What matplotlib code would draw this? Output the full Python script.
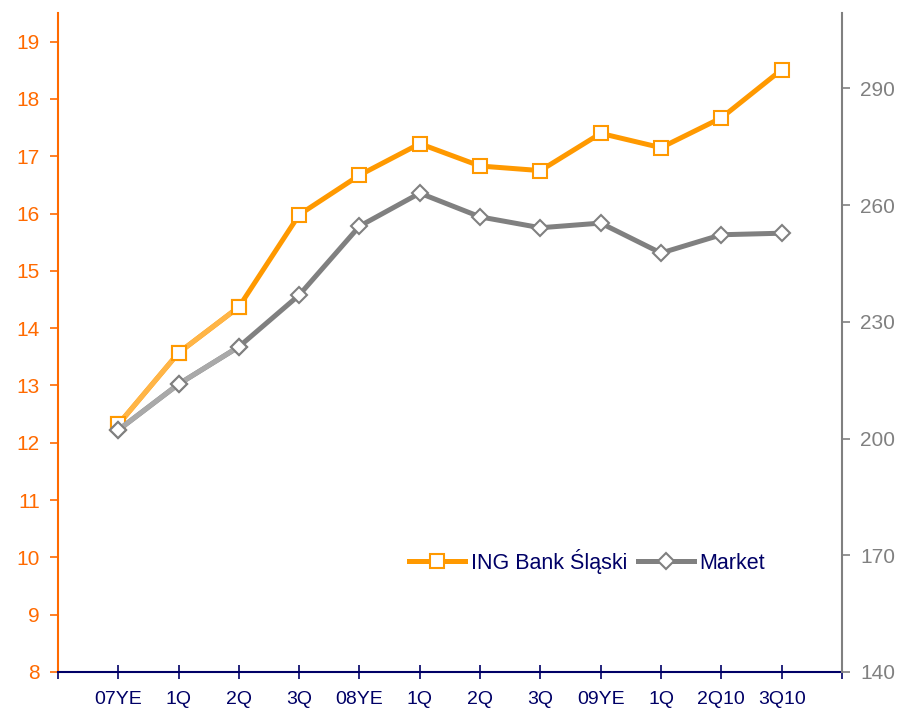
import matplotlib
matplotlib.use("Agg")
import matplotlib.pyplot as plt

categories = ["07YE", "1Q", "2Q", "3Q", "08YE", "1Q", "2Q", "3Q", "09YE", "1Q", "2Q10", "3Q10"]
ing_values = [12.32, 13.57, 14.37, 15.98, 16.67, 17.22, 16.83, 16.75, 17.40, 17.15, 17.67, 18.51]
market_values = [202.2, 214.0, 223.6, 236.9, 254.6, 263.1, 257.0, 254.2, 255.4, 247.7, 252.4, 252.8]
left_ticks = list(range(8, 20))
right_ticks = [140, 170, 200, 230, 260, 290]

plt.rcParams['font.family'] = ['Liberation Sans', 'DejaVu Sans']

ORANGE = "#FF9900"
ORANGE_LIGHT = "#FFB547"
AXIS_ORANGE = "#FF6A00"
GRAY = "#808080"
GRAY_LIGHT = "#A9A9A9"
NAVY = "#000066"

fig = plt.figure(figsize=(8.99, 7.12), dpi=100)
ax1 = fig.add_axes([0.0645, 0.0562, 0.872, 0.9255])
ax2 = ax1.twinx()

x = list(range(1, len(categories) + 1))

l1, = ax1.plot(x, ing_values, color=ORANGE, lw=3.6, marker='s', markersize=10,
               markerfacecolor='white', markeredgecolor=ORANGE, markeredgewidth=1.5,
               solid_joinstyle='round', zorder=3, label="ING Bank Śląski")
ax1.plot(x[:3], ing_values[:3], color=ORANGE_LIGHT, lw=3.6, zorder=3.1)
ax1.plot(x[:3], ing_values[:3], ls='none', marker='s', markersize=10,
         markerfacecolor='white', markeredgecolor=ORANGE, markeredgewidth=1.5, zorder=3.2)

l2, = ax2.plot(x, market_values, color=GRAY, lw=3.6, marker='D', markersize=8,
               markerfacecolor='white', markeredgecolor=GRAY, markeredgewidth=1.5,
               solid_joinstyle='round', zorder=3, label="Market")
ax2.plot(x[:3], market_values[:3], color=GRAY_LIGHT, lw=3.6, zorder=3.1)
ax2.plot(x[:3], market_values[:3], ls='none', marker='D', markersize=8,
         markerfacecolor='white', markeredgecolor=GRAY, markeredgewidth=1.5, zorder=3.2)

ax1.set_xlim(0, len(categories) + 1)
ax1.set_ylim(8, 19.5)
ax2.set_ylim(140, 309.4)

ax1.set_yticks(left_ticks)
ax1.set_yticklabels([str(t) for t in left_ticks])
ax2.set_yticks(right_ticks)
ax2.set_yticklabels([str(t) for t in right_ticks])

ax1.set_xticks(range(0, len(categories) + 2))
ax1.set_xticklabels([""] + categories + [""])

for ax in (ax1, ax2):
    ax.spines['top'].set_visible(False)
ax1.spines['right'].set_visible(False)
ax2.spines['left'].set_visible(False)
ax2.spines['bottom'].set_visible(False)

ax1.spines['left'].set_color(AXIS_ORANGE)
ax1.spines['left'].set_linewidth(1.5)
ax1.spines['bottom'].set_color(NAVY)
ax1.spines['bottom'].set_linewidth(1.5)
ax2.spines['right'].set_color(GRAY)
ax2.spines['right'].set_linewidth(1.5)

ax1.tick_params(axis='y', colors=AXIS_ORANGE, labelsize=15, length=6, width=1.2, pad=7)
ax1.tick_params(axis='x', colors=NAVY, labelcolor=NAVY, labelsize=14, length=10,
                width=1.2, direction='inout', pad=9)
ax2.tick_params(axis='y', colors=GRAY, labelcolor=GRAY, labelsize=15, length=6, width=1.2, pad=7)

leg = ax2.legend(handles=[l1, l2], loc='center', bbox_to_anchor=(0.675, 0.168), ncol=2,
                 frameon=False, fontsize=15.5, handlelength=2.6, handletextpad=0.25,
                 columnspacing=0.5)
for t in leg.get_texts():
    t.set_color(NAVY)

fig.savefig("out.png", dpi=100)
